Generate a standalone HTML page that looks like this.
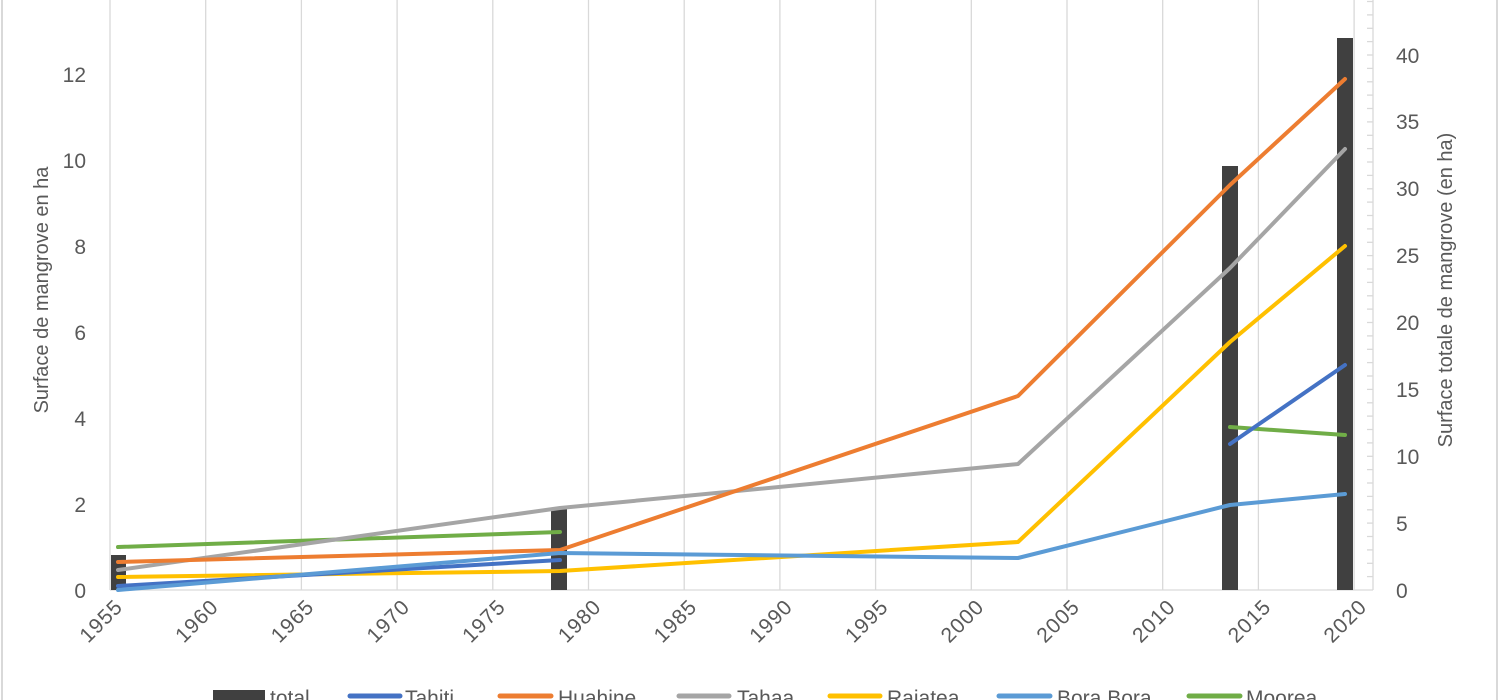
<!DOCTYPE html>
<html><head><meta charset="utf-8"><style>
html,body{margin:0;padding:0;background:#fff;}
svg{display:block;font-family:"Liberation Sans",sans-serif;}
</style></head><body>
<svg width="1500" height="700" viewBox="0 0 1500 700" xmlns="http://www.w3.org/2000/svg">
<rect x="0" y="0" width="1500" height="700" fill="#fff"/>
<line x1="2" y1="0" x2="2" y2="700" stroke="#d9d9d9" stroke-width="2"/>
<line x1="1497" y1="0" x2="1497" y2="700" stroke="#d9d9d9" stroke-width="2"/>
<g stroke="#d9d9d9" stroke-width="1.3">
<line x1="110" y1="0" x2="110" y2="590"/><line x1="205.7" y1="0" x2="205.7" y2="590"/>
<line x1="301.4" y1="0" x2="301.4" y2="590"/><line x1="397.1" y1="0" x2="397.1" y2="590"/>
<line x1="492.8" y1="0" x2="492.8" y2="590"/><line x1="588.5" y1="0" x2="588.5" y2="590"/>
<line x1="684.2" y1="0" x2="684.2" y2="590"/><line x1="779.9" y1="0" x2="779.9" y2="590"/>
<line x1="875.6" y1="0" x2="875.6" y2="590"/><line x1="971.3" y1="0" x2="971.3" y2="590"/>
<line x1="1067" y1="0" x2="1067" y2="590"/><line x1="1162.7" y1="0" x2="1162.7" y2="590"/>
<line x1="1258.4" y1="0" x2="1258.4" y2="590"/><line x1="1354.1" y1="0" x2="1354.1" y2="590"/>
<line x1="110" y1="590" x2="1373" y2="590"/>
<line x1="1373" y1="0" x2="1373" y2="590"/>
</g>
<g fill="#404040">
<rect x="111" y="555" width="15" height="35"/>
<rect x="551" y="508" width="16" height="82"/>
<rect x="1222" y="166" width="16" height="424"/>
<rect x="1337" y="38" width="16" height="552"/>
</g>
<g fill="none" stroke-width="4" stroke-linecap="round" stroke-linejoin="round">
<polyline stroke="#70ad47" points="118,547 560,532"/>
<polyline stroke="#70ad47" points="1230,427 1345,435"/>
<polyline stroke="#ffc000" points="118,577 560,571 1018,542 1230,342 1345,246"/>
<polyline stroke="#a5a5a5" points="118,570 560,508 1018,464 1230,268 1345,149"/>
<polyline stroke="#ed7d31" points="118,562 560,550 1018,396 1230,185 1345,79"/>
<polyline stroke="#4472c4" points="118,586 560,560"/>
<polyline stroke="#4472c4" points="1230,444 1345,365"/>
<polyline stroke="#5b9bd5" points="118,590 560,553 1018,558 1230,505 1345,494"/>
</g>
<g fill="#595959" font-size="21" text-anchor="end">
<text x="86" y="598">0</text><text x="86" y="512">2</text><text x="86" y="426">4</text>
<text x="86" y="340">6</text><text x="86" y="254">8</text><text x="86" y="168">10</text>
<text x="86" y="82">12</text>
</g>
<g fill="#595959" font-size="21">
<text x="1396" y="598">0</text><text x="1396" y="531">5</text><text x="1396" y="464">10</text>
<text x="1396" y="397">15</text><text x="1396" y="330">20</text><text x="1396" y="263">25</text>
<text x="1396" y="196">30</text><text x="1396" y="129">35</text><text x="1396" y="63">40</text>
</g>
<g fill="#595959" font-size="21" text-anchor="end" letter-spacing="1">
<text transform="translate(124,608) rotate(-45)">1955</text>
<text transform="translate(219.7,608) rotate(-45)">1960</text>
<text transform="translate(315.4,608) rotate(-45)">1965</text>
<text transform="translate(411.1,608) rotate(-45)">1970</text>
<text transform="translate(506.8,608) rotate(-45)">1975</text>
<text transform="translate(602.5,608) rotate(-45)">1980</text>
<text transform="translate(698.2,608) rotate(-45)">1985</text>
<text transform="translate(793.9,608) rotate(-45)">1990</text>
<text transform="translate(889.6,608) rotate(-45)">1995</text>
<text transform="translate(985.3,608) rotate(-45)">2000</text>
<text transform="translate(1081,608) rotate(-45)">2005</text>
<text transform="translate(1176.7,608) rotate(-45)">2010</text>
<text transform="translate(1272.4,608) rotate(-45)">2015</text>
<text transform="translate(1368.1,608) rotate(-45)">2020</text>
</g>
<text transform="translate(48,290) rotate(-90)" fill="#595959" font-size="20" text-anchor="middle">Surface de mangrove en ha</text>
<text transform="translate(1452,290) rotate(-90)" fill="#595959" font-size="20" text-anchor="middle">Surface totale de mangrove (en ha)</text>
<g font-size="21" fill="#595959">
<rect x="213" y="690" width="52" height="12" fill="#404040"/><text x="270" y="705">total</text>
<line x1="350" y1="696" x2="400" y2="696" stroke="#4472c4" stroke-width="5" stroke-linecap="round"/><text x="405" y="705">Tahiti</text>
<line x1="500" y1="696" x2="551" y2="696" stroke="#ed7d31" stroke-width="5" stroke-linecap="round"/><text x="558" y="705">Huahine</text>
<line x1="679" y1="696" x2="729" y2="696" stroke="#a5a5a5" stroke-width="5" stroke-linecap="round"/><text x="737" y="705">Tahaa</text>
<line x1="830" y1="696" x2="880" y2="696" stroke="#ffc000" stroke-width="5" stroke-linecap="round"/><text x="887" y="705">Rajatea</text>
<line x1="999" y1="696" x2="1050" y2="696" stroke="#5b9bd5" stroke-width="5" stroke-linecap="round"/><text x="1057" y="705">Bora Bora</text>
<line x1="1189" y1="696" x2="1240" y2="696" stroke="#70ad47" stroke-width="5" stroke-linecap="round"/><text x="1246" y="705">Moorea</text>
</g>
<g stroke="#d9d9d9" stroke-width="1.3">
<line x1="1367" y1="576.6" x2="1373" y2="576.6"/><line x1="1367" y1="563.3" x2="1373" y2="563.3"/>
<line x1="1367" y1="549.9" x2="1373" y2="549.9"/><line x1="1367" y1="536.5" x2="1373" y2="536.5"/>
<line x1="1367" y1="523.1" x2="1373" y2="523.1"/><line x1="1367" y1="509.8" x2="1373" y2="509.8"/>
<line x1="1367" y1="496.4" x2="1373" y2="496.4"/><line x1="1367" y1="483" x2="1373" y2="483"/>
<line x1="1367" y1="469.6" x2="1373" y2="469.6"/><line x1="1367" y1="456.3" x2="1373" y2="456.3"/>
<line x1="1367" y1="442.9" x2="1373" y2="442.9"/><line x1="1367" y1="429.5" x2="1373" y2="429.5"/>
<line x1="1367" y1="416.1" x2="1373" y2="416.1"/><line x1="1367" y1="402.8" x2="1373" y2="402.8"/>
<line x1="1367" y1="389.4" x2="1373" y2="389.4"/><line x1="1367" y1="376" x2="1373" y2="376"/>
<line x1="1367" y1="362.6" x2="1373" y2="362.6"/><line x1="1367" y1="349.3" x2="1373" y2="349.3"/>
<line x1="1367" y1="335.9" x2="1373" y2="335.9"/><line x1="1367" y1="322.5" x2="1373" y2="322.5"/>
<line x1="1367" y1="309.1" x2="1373" y2="309.1"/><line x1="1367" y1="295.8" x2="1373" y2="295.8"/>
<line x1="1367" y1="282.4" x2="1373" y2="282.4"/><line x1="1367" y1="269" x2="1373" y2="269"/>
<line x1="1367" y1="255.6" x2="1373" y2="255.6"/><line x1="1367" y1="242.3" x2="1373" y2="242.3"/>
<line x1="1367" y1="228.9" x2="1373" y2="228.9"/><line x1="1367" y1="215.5" x2="1373" y2="215.5"/>
<line x1="1367" y1="202.1" x2="1373" y2="202.1"/><line x1="1367" y1="188.8" x2="1373" y2="188.8"/>
<line x1="1367" y1="175.4" x2="1373" y2="175.4"/><line x1="1367" y1="162" x2="1373" y2="162"/>
<line x1="1367" y1="148.6" x2="1373" y2="148.6"/><line x1="1367" y1="135.3" x2="1373" y2="135.3"/>
<line x1="1367" y1="121.9" x2="1373" y2="121.9"/><line x1="1367" y1="108.5" x2="1373" y2="108.5"/>
<line x1="1367" y1="95.1" x2="1373" y2="95.1"/><line x1="1367" y1="81.8" x2="1373" y2="81.8"/>
<line x1="1367" y1="68.4" x2="1373" y2="68.4"/><line x1="1367" y1="55" x2="1373" y2="55"/>
<line x1="1367" y1="41.6" x2="1373" y2="41.6"/><line x1="1367" y1="28.3" x2="1373" y2="28.3"/>
<line x1="1367" y1="14.9" x2="1373" y2="14.9"/><line x1="1367" y1="1.5" x2="1373" y2="1.5"/>
</g>
</svg>
</body></html>
